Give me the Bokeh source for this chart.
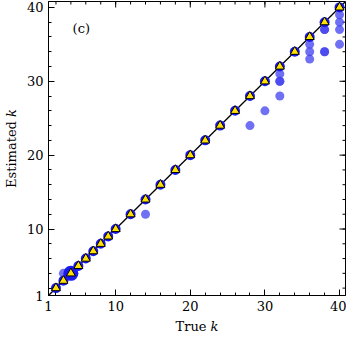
import math
from bokeh.plotting import figure
from bokeh.models import FixedTicker, Range1d, Label
from bokeh.embed import file_html
from bokeh.resources import INLINE

# data
diag_true = [2, 3, 4, 5, 6, 7, 8, 9, 10, 12, 14, 16, 18, 20, 22, 24, 26, 28, 30, 32, 34, 36, 38, 40]
diag_est = [2, 3, 4, 5, 6, 7, 8, 9, 10, 12, 14, 16, 18, 20, 22, 24, 26, 28, 30, 32, 34, 36, 38, 40]
big_true = [4]
big_est = [4]
out_true = [3, 14, 28, 30, 32, 32, 32, 32, 36, 36, 36, 38, 38, 38, 38, 40, 40, 40, 40]
out_est = [4, 12, 24, 26, 31, 30, 30, 28, 35, 34, 33, 37, 37, 34, 34, 39, 38, 37, 35]
ideal_k = [1, 41]
tick_vals = [1, 10, 20, 30, 40]
minor_vals = list(range(2, 41, 2))
K_MIN, K_MAX = 1, 40.8

FONT = "DejaVu Serif"

p = figure(width=346, height=336, x_range=Range1d(K_MIN, K_MAX), y_range=Range1d(K_MIN, K_MAX),
           output_backend="svg", toolbar_location=None,
           min_border_left=48, min_border_right=1, min_border_top=1, min_border_bottom=41)
p.grid.visible = False
p.outline_line_color = "black"
p.outline_line_width = 1

for ax in (p.xaxis[0], p.yaxis[0]):
    ax.ticker = FixedTicker(ticks=tick_vals, minor_ticks=minor_vals)
    ax.major_tick_in = 6
    ax.major_tick_out = 0
    ax.minor_tick_in = 3
    ax.minor_tick_out = 0
    ax.axis_line_color = "black"
    ax.major_tick_line_color = "black"
    ax.minor_tick_line_color = "black"
    ax.major_label_text_font = FONT
    ax.major_label_text_font_size = "13px"
    ax.major_label_text_color = "black"
    ax.major_label_standoff = 5
    ax.axis_label_text_font = FONT
    ax.axis_label_text_font_size = "13px"
    ax.axis_label_text_font_style = "normal"
    ax.axis_label_text_color = "black"
    ax.axis_label_standoff = 5
p.xaxis.axis_label = "True 𝑘"
p.yaxis.axis_label = "Estimated 𝑘"

# mirrored inward ticks on top and right edges (half of each dash is clipped by the frame)
p.scatter(tick_vals, [K_MAX] * len(tick_vals), marker="dash", angle=math.pi / 2, size=12, line_color="black", line_width=1)
p.scatter(minor_vals, [K_MAX] * len(minor_vals), marker="dash", angle=math.pi / 2, size=6, line_color="black", line_width=1)
p.scatter([K_MAX] * len(tick_vals), tick_vals, marker="dash", size=12, line_color="black", line_width=1)
p.scatter([K_MAX] * len(minor_vals), minor_vals, marker="dash", size=6, line_color="black", line_width=1)

p.line(ideal_k, ideal_k, line_color="black", line_width=1.3)
p.scatter(out_true, out_est, marker="circle", size=9, fill_color="#4040f0", fill_alpha=0.75, line_color=None)
p.scatter(big_true, big_est, marker="circle", size=15, fill_color="#1a1aee", line_color=None)
p.scatter(diag_true, diag_est, marker="circle", size=10, fill_color="#1a1aee", line_color=None)
p.scatter(diag_true, diag_est, marker="triangle", size=9, fill_color="#ffe000", line_color="black", line_width=1)

p.add_layout(Label(x=5.4, y=37.2, text="(c)", text_font=FONT, text_font_size="13px",
                   text_align="center", text_baseline="middle", text_color="black"))

open("out.html", "w").write(file_html(p, INLINE))
